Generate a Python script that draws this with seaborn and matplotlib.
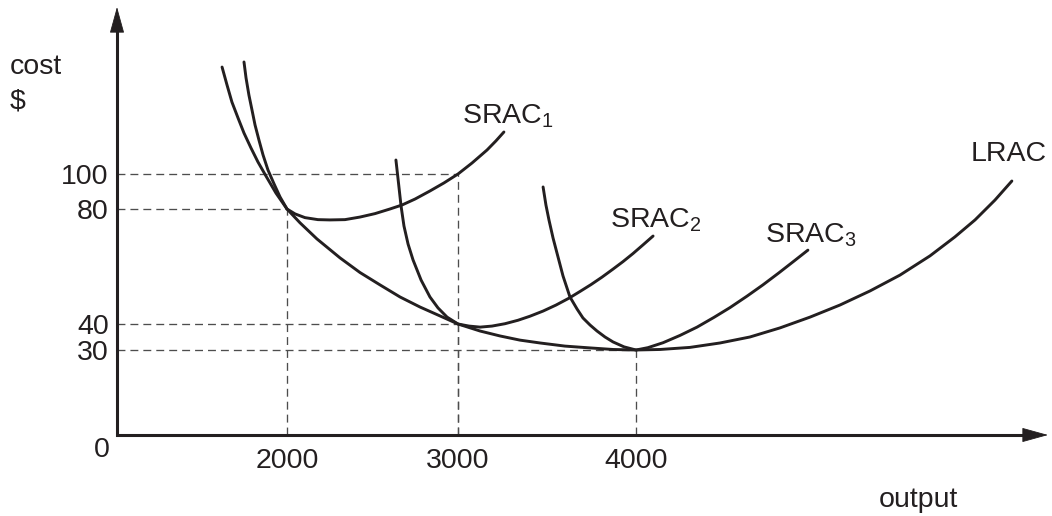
import matplotlib
matplotlib.use("Agg")
import matplotlib.pyplot as plt
import seaborn as sns
import numpy as np

# tick values
x_ticks = [2000, 3000, 4000]
y_ticks = [30, 40, 80, 100]

# curves (output, cost)
lrac_x = [1618, 1647, 1676, 1712, 1747, 1788, 1829, 1876, 1935, 2000,
          2076, 2175, 2310, 2427, 2544, 2661, 2778, 2895, 3000,
          3124, 3236, 3348, 3461, 3601, 3742, 3871, 4000,
          4135, 4303, 4472, 4640, 4809, 4978, 5146, 5315, 5483, 5652,
          5792, 5905, 6017, 6112]
lrac_y = [161.1, 150.9, 141.1, 132.0, 123.4, 114.9, 106.9, 98.9, 89.1, 80,
          75.2, 69.6, 63.0, 57.9, 53.6, 49.4, 45.9, 42.8, 40,
          37.3, 35.4, 33.8, 32.7, 31.5, 30.8, 30.2, 30,
          30.2, 31.0, 32.7, 35.0, 38.5, 42.4, 46.6, 51.5, 57.0, 63.7,
          70.3, 76.2, 85.1, 96.0]

srac1_x = [1747, 1759, 1776, 1794, 1812, 1835, 1859, 1888, 1924, 1959, 2000,
           2047, 2105, 2181, 2251, 2339, 2427, 2515, 2602, 2673, 2749,
           2836, 2918, 3000, 3079, 3163, 3213, 3258]
srac1_y = [164.0, 154.9, 145.1, 136.6, 128.0, 119.4, 110.9, 102.3, 94.3, 86.9, 80,
           78.3, 77.0, 76.3, 76.2, 76.3, 77.2, 78.4, 80, 82.3, 85.7,
           90.3, 94.9, 100, 106.3, 113.7, 118.9, 124.0]

srac2_x = [2637, 2652, 2667, 2684, 2708, 2737, 2784, 2836, 2883, 2936, 3000,
           3062, 3124, 3191, 3264, 3337, 3404, 3478, 3551, 3624, 3685,
           3747, 3809, 3871, 3927, 3983, 4039, 4096]
srac2_y = [108.0, 94.9, 81.7, 74.1, 67.8, 62.3, 55.3, 49.4, 45.6, 42.4, 40,
           39.2, 38.8, 39.2, 40.1, 41.3, 42.7, 44.5, 46.6, 49.0, 51.3,
           53.7, 56.3, 59.1, 61.7, 64.5, 67.5, 70.6]

srac3_x = [3478, 3494, 3511, 3534, 3556, 3590, 3629, 3669, 3702, 3742, 3781,
           3826, 3871, 3933, 4000, 4067, 4152, 4247, 4343, 4438, 4528,
           4624, 4713, 4803, 4888, 4966]
srac3_y = [92.6, 82.3, 76.2, 69.9, 64.7, 56.7, 49.4, 45.2, 42.1, 39.6, 37.3,
           35.0, 33.1, 31.2, 30, 30.9, 32.8, 35.6, 38.8, 42.3, 45.7,
           49.7, 53.6, 57.8, 61.9, 65.7]

# dashed guides run from both axes to these points
guide_points = [(2000, 80), (3000, 100), (3000, 40), (4000, 30)]

labels = ["SRAC$_\\mathregular{1}$", "SRAC$_\\mathregular{2}$",
          "SRAC$_\\mathregular{3}$", "LRAC"]
label_x = [3022, 3854, 4725, 5882]
label_y = [128.6, 73.4, 68.5, 107.4]

# axis range
x_min, x_max = 1000, 6315
y_min, y_max = 0, 195.4

# the drawing is schematic: tick spacing is not even
x_knots = [1000, 2000, 3000, 4000, 6315]
x_pos = [0, 170, 341, 519, 931]
y_knots = [0, 30, 40, 80, 100, 195.4]
y_pos = [0, 85, 111, 226, 261, 428]


def piecewise(knots, pos):
    k = np.asarray(knots, float)
    p = np.asarray(pos, float)
    s0 = (p[1] - p[0]) / (k[1] - k[0])
    s1 = (p[-1] - p[-2]) / (k[-1] - k[-2])
    k = np.r_[k[0] - 1e6, k, k[-1] + 1e6]
    p = np.r_[p[0] - 1e6 * s0, p, p[-1] + 1e6 * s1]
    fwd = lambda v: np.interp(v, k, p)
    inv = lambda v: np.interp(v, p, k)
    return fwd, inv


sns.set_theme(style="white")
plt.rcParams["font.family"] = ["Liberation Sans", "DejaVu Sans"]
plt.rcParams["mathtext.fontset"] = "custom"
plt.rcParams["mathtext.rm"] = "Liberation Sans"
plt.rcParams["mathtext.it"] = "Liberation Sans:italic"
plt.rcParams["mathtext.bf"] = "Liberation Sans:bold"

ink = "#231f20"
grey = "#4d4d4d"
fs = 20.5

fig = plt.figure(figsize=(10.52, 5.16), dpi=100)
ax = fig.add_axes([117 / 1052, 81 / 516, 931 / 1052, 428 / 516])
ax.set_xscale("function", functions=piecewise(x_knots, x_pos))
ax.set_yscale("function", functions=piecewise(y_knots, y_pos))

# dashed guides
for gx, gy in guide_points:
    ax.plot([x_min, gx], [gy, gy], color=grey, lw=0.95, ls=(0, (6, 3.8)), zorder=1)
    ax.plot([gx, gx], [y_min, gy], color=grey, lw=0.95, ls=(0, (6, 3.8)), zorder=1)

# cost curves
for xs, ys in [(lrac_x, lrac_y), (srac1_x, srac1_y), (srac2_x, srac2_y), (srac3_x, srac3_y)]:
    sns.lineplot(x=xs, y=ys, ax=ax, color=ink, lw=2.1, sort=False, estimator=None, zorder=3)

for t, lx, ly in zip(labels, label_x, label_y):
    ax.text(lx, ly, t, fontsize=fs, color=ink, ha="left", va="baseline")

ax.set_xlim(x_min, x_max)
ax.set_ylim(y_min, y_max)
ax.set_xticks(x_ticks)
ax.set_xticklabels([str(v) for v in x_ticks])
ax.set_yticks(y_ticks)
ax.set_yticklabels([str(v) for v in y_ticks])
ax.tick_params(axis="x", length=0, pad=9, labelsize=fs, labelcolor=ink)
ax.tick_params(axis="y", length=0, pad=6, labelsize=fs, labelcolor=ink)
sns.despine(ax=ax, left=True, bottom=True)
ax.grid(False)

# axes with arrow heads
ax.plot([0, 0, 1 - 20 / 931], [1 - 20 / 428, 0, 0], transform=ax.transAxes,
        color=ink, lw=2.2, clip_on=False, solid_joinstyle="miter", zorder=4)
head = dict(arrowstyle="-|>,head_length=1.7,head_width=0.47", color=ink,
            lw=0.6, shrinkA=0, shrinkB=0, mutation_scale=10)
ax.annotate("", xy=(0, 1), xytext=(0, 0.9), xycoords="axes fraction", arrowprops=head)
ax.annotate("", xy=(1, 0), xytext=(0.95, 0), xycoords="axes fraction", arrowprops=head)

ax.annotate("0", xy=(0, 0), xycoords="axes fraction", xytext=(-10.8, -15.8),
            textcoords="offset points", ha="center", va="baseline", fontsize=fs, color=ink)

fig.text(10 / 1052, 1 - 74 / 516, "cost", fontsize=fs, color=ink, ha="left", va="baseline")
fig.text(10 / 1052, 1 - 109 / 516, "$", fontsize=fs, color=ink, ha="left", va="baseline")
fig.text(918 / 1052, 1 - 507 / 516, "output", fontsize=fs, color=ink, ha="center", va="baseline")

fig.savefig("out.png", dpi=100)
